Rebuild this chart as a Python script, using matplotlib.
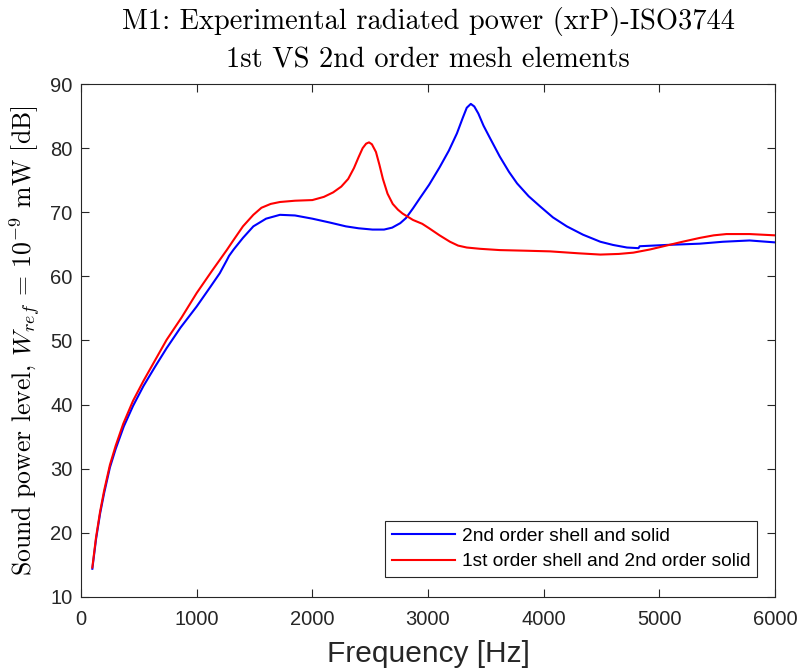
import numpy as np
import matplotlib
matplotlib.use("Agg")
import matplotlib.pyplot as plt

# 2nd order shell and solid (blue)
f_blue = [98, 130, 165, 200, 250, 300, 370, 450, 540, 640, 740, 860, 1000, 1120, 1200,
          1260, 1280, 1320, 1400, 1490, 1600, 1720, 1850, 2000, 2150, 2290, 2400, 2520,
          2620, 2690, 2760, 2810, 2870, 2930, 3010, 3100, 3180, 3250, 3300, 3335, 3370,
          3400, 3435, 3480, 3535, 3620, 3700, 3770, 3870, 3970, 4080, 4200, 4340, 4490,
          4600, 4720, 4820, 4830, 5060, 5350, 5550, 5780, 6000]
db_blue = [14.4, 19.0, 23.0, 26.2, 30.2, 33.1, 36.6, 39.8, 42.9, 45.9, 48.8, 52.0, 55.3, 58.4, 60.5,
           62.5, 63.2, 64.2, 66.0, 67.8, 69.0, 69.6, 69.5, 69.0, 68.4, 67.8, 67.5, 67.3,
           67.3, 67.6, 68.3, 69.1, 70.6, 72.2, 74.3, 77.0, 79.6, 82.3, 84.7, 86.3, 86.9,
           86.5, 85.4, 83.5, 81.6, 78.7, 76.3, 74.5, 72.5, 70.9, 69.2, 67.8, 66.5, 65.4,
           64.9, 64.5, 64.4, 64.7, 64.9, 65.1, 65.4, 65.6, 65.3]

# 1st order shell and 2nd order solid (red)
f_red = [98, 130, 165, 200, 250, 300, 365, 450, 540, 640, 740, 870, 1000, 1130, 1260, 1320,
         1400, 1490, 1560, 1640, 1720, 1850, 2000, 2100, 2180, 2250, 2310, 2360, 2400, 2435,
         2465, 2490, 2515, 2550, 2580, 2610, 2650, 2695, 2740, 2780, 2870, 2950, 3010, 3100,
         3190, 3260, 3335, 3450, 3620, 3850, 4055, 4300, 4490, 4650, 4775, 4920, 5060, 5200,
         5350, 5470, 5580, 5780, 6000]
db_red = [14.6, 19.3, 23.3, 26.6, 30.6, 33.6, 37.0, 40.6, 43.7, 46.9, 50.1, 53.6, 57.4, 60.8, 64.1, 65.7,
          67.8, 69.6, 70.7, 71.3, 71.6, 71.8, 71.9, 72.4, 73.1, 74.0, 75.2, 76.9, 78.6, 80.0,
          80.7, 80.9, 80.6, 79.4, 77.4, 75.2, 72.9, 71.3, 70.4, 69.8, 68.8, 68.2, 67.5, 66.4,
          65.4, 64.8, 64.5, 64.3, 64.1, 64.0, 63.9, 63.6, 63.4, 63.5, 63.7, 64.2, 64.8, 65.4,
          66.0, 66.4, 66.6, 66.6, 66.4]

plt.rcParams['font.family'] = ['Liberation Sans', 'DejaVu Sans']
plt.rcParams['mathtext.fontset'] = 'cm'

fig = plt.figure(figsize=(7.98, 6.70), dpi=100)
ax = fig.add_axes([0.1015, 0.109, 0.8697, 0.7656])

ax.plot(f_blue, db_blue, color='#0000ff', lw=1.5, label='2nd order shell and solid')
ax.plot(f_red, db_red, color='#ff0000', lw=1.5, label='1st order shell and 2nd order solid')

ax.set_xlim(0, 6000)
ax.set_ylim(10, 90)
ax.set_xticks(np.arange(0, 6001, 1000))
ax.set_yticks(np.arange(10, 91, 10))

edge = '#262626'
for s in ax.spines.values():
    s.set_color(edge)
    s.set_linewidth(0.8)
ax.tick_params(direction='in', length=6, width=0.8, colors=edge, labelsize=14.5,
               top=True, right=True)
ax.tick_params(axis='x', pad=9.5)
ax.tick_params(axis='y', pad=6)

ax.set_xlabel('Frequency [Hz]', fontsize=21.5, color=edge, labelpad=7.5)
ax.set_ylabel(r'Sound power level, $W_{ref}$ = $10^{-9}$ mW [dB]', fontsize=18.5,
              family='cmr10', labelpad=5)
ax.set_title('M1: Experimental radiated power (xrP)-ISO3744\n1st VS 2nd order mesh elements',
             fontsize=20.5, family='cmr10', linespacing=1.55, pad=12)

leg = ax.legend(loc='lower right', bbox_to_anchor=(0.974, 0.039), borderaxespad=0,
                fontsize=13.8, fancybox=False, framealpha=1, edgecolor=edge,
                handlelength=3.3, handletextpad=0.35, borderpad=0.35, labelspacing=0.4)
leg.get_frame().set_linewidth(0.8)

fig.savefig('out.png', dpi=100)
